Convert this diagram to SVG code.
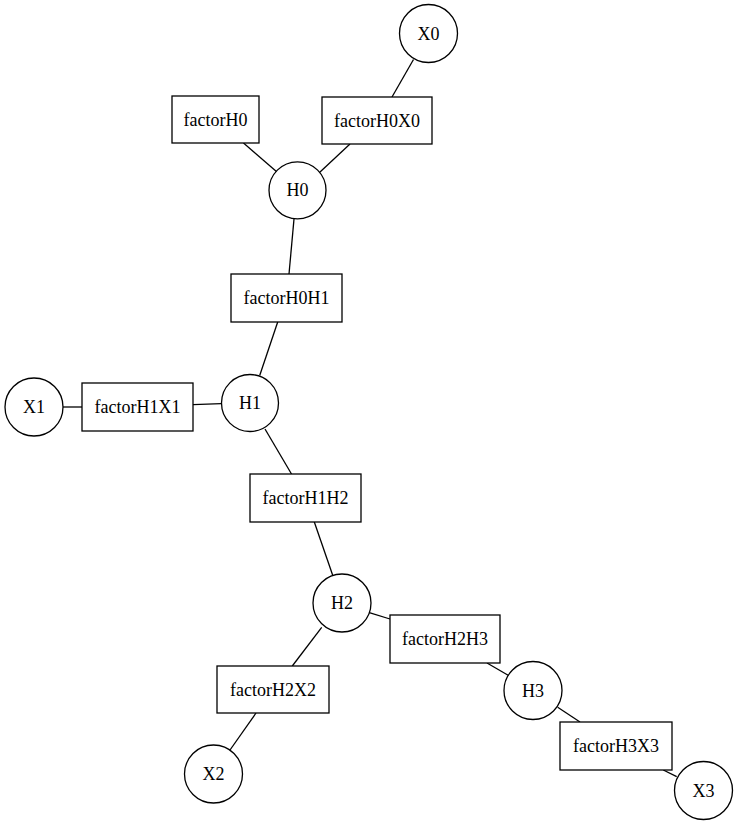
<svg xmlns="http://www.w3.org/2000/svg" width="738" height="824" viewBox="0 0 738 824">
  <style>
    .node circle, .node rect { fill: #ffffff; stroke: #000000; stroke-width: 1.3; }
    .node text { font-family: "Liberation Serif", "Times New Roman", serif; font-size: 18px; text-anchor: middle; fill: #000000; }
    #edges line { stroke: #000000; stroke-width: 1.3; }
  </style>
  <rect width="738" height="824" fill="#ffffff"/>

  <!-- undirected factor-graph links -->
  <g id="edges">
    <line x1="413.5" y1="59.5" x2="392" y2="97"/>
    <line x1="243.5" y1="143" x2="277" y2="172"/>
    <line x1="350" y1="144" x2="319.5" y2="172.5"/>
    <line x1="294" y1="219" x2="289" y2="274"/>
    <line x1="277.7" y1="322" x2="259.7" y2="375.5"/>
    <line x1="63" y1="407" x2="82" y2="407"/>
    <line x1="193" y1="404.7" x2="221.5" y2="403.7"/>
    <line x1="265" y1="429" x2="291.5" y2="474"/>
    <line x1="314.3" y1="522" x2="332.7" y2="575.3"/>
    <line x1="369.3" y1="612.7" x2="390" y2="619"/>
    <line x1="487" y1="663" x2="509" y2="675.7"/>
    <line x1="557.7" y1="707.3" x2="580" y2="722"/>
    <line x1="663.3" y1="770" x2="676.7" y2="776.7"/>
    <line x1="321.7" y1="627.3" x2="292.3" y2="666"/>
    <line x1="256" y1="713" x2="230" y2="750"/>
  </g>

  <!-- variable nodes -->
  <g id="X0" class="node"><circle cx="428.5" cy="33.5" r="29"/><text x="428.5" y="39.5">X0</text></g>
  <g id="H0" class="node"><circle cx="297.5" cy="190.3" r="28.5"/><text x="297.5" y="196.3">H0</text></g>
  <g id="H1" class="node"><circle cx="250" cy="403" r="28.5"/><text x="250" y="409">H1</text></g>
  <g id="X1" class="node"><circle cx="34" cy="407" r="29"/><text x="34" y="413">X1</text></g>
  <g id="H2" class="node"><circle cx="342" cy="603" r="29"/><text x="342" y="609">H2</text></g>
  <g id="H3" class="node"><circle cx="533" cy="690.5" r="29"/><text x="533" y="696.5">H3</text></g>
  <g id="X3" class="node"><circle cx="703.5" cy="790.5" r="29"/><text x="703.5" y="796.5">X3</text></g>
  <g id="X2" class="node"><circle cx="213.5" cy="774" r="29"/><text x="213.5" y="780">X2</text></g>

  <!-- factor nodes -->
  <g id="factorH0" class="node"><rect x="172" y="96" width="87" height="47"/><text x="215.5" y="125.5">factorH0</text></g>
  <g id="factorH0X0" class="node"><rect x="322" y="97" width="110" height="47"/><text x="377" y="126.5">factorH0X0</text></g>
  <g id="factorH0H1" class="node"><rect x="231" y="274" width="111" height="48"/><text x="286.5" y="304">factorH0H1</text></g>
  <g id="factorH1X1" class="node"><rect x="82" y="383" width="111" height="48"/><text x="137.5" y="413">factorH1X1</text></g>
  <g id="factorH1H2" class="node"><rect x="250" y="474" width="111" height="48"/><text x="305.5" y="504">factorH1H2</text></g>
  <g id="factorH2H3" class="node"><rect x="390" y="615" width="110" height="48"/><text x="445" y="645">factorH2H3</text></g>
  <g id="factorH3X3" class="node"><rect x="560" y="722" width="112" height="48"/><text x="616" y="752">factorH3X3</text></g>
  <g id="factorH2X2" class="node"><rect x="217" y="666" width="112" height="47"/><text x="273" y="695.5">factorH2X2</text></g>
</svg>
